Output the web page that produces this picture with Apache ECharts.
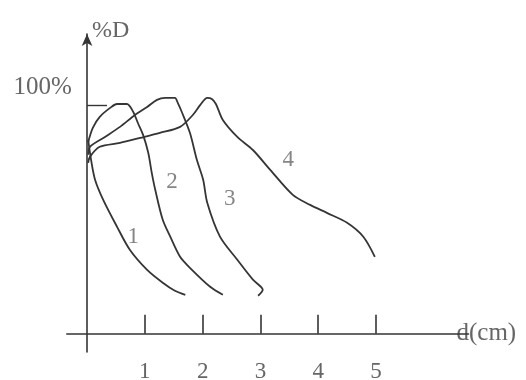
<!DOCTYPE html>
<html>
<head>
<meta charset="utf-8">
<script src="https://cdn.jsdelivr.net/npm/echarts@6/dist/echarts.min.js"></script>
<style>
  html, body { margin: 0; padding: 0; background: #fff; }
  #chart { width: 526px; height: 380px; }
</style>
</head>
<body>
<div id="chart"></div>
<script>
// depth (cm) / percent depth dose
var curve1 = [[0.02,84.7],[0.07,76.0],[0.14,67.2],[0.28,58.5],[0.52,46.7],[0.74,36.7],[1.04,27.9],[1.31,22.3],[1.52,18.8],[1.70,17.0]];
var curve2 = [[0.02,83.8],[0.10,90.0],[0.22,94.8],[0.40,98.7],[0.52,100.4],[0.69,100.4],[0.80,96.9],[0.88,92.1],[0.97,86.9],[1.06,79.0],[1.12,70.3],[1.18,62.9],[1.31,49.8],[1.44,42.4],[1.61,33.6],[1.78,28.8],[2.13,20.5],[2.35,17.0]];
var curve3 = [[0.02,78.2],[0.05,81.7],[0.31,86.0],[0.57,90.4],[0.83,95.6],[1.04,99.1],[1.21,102.2],[1.35,103.1],[1.52,103.1],[1.57,100.9],[1.64,96.9],[1.78,87.8],[1.90,76.0],[2.01,67.2],[2.08,57.2],[2.30,42.4],[2.60,32.3],[2.87,23.6],[3.04,19.2],[2.96,16.6]];
var curve4 = [[0.02,74.7],[0.05,77.3],[0.22,81.7],[0.57,83.4],[0.92,85.6],[1.26,87.8],[1.61,90.4],[1.83,95.6],[1.96,100.0],[2.08,103.1],[2.16,102.6],[2.23,100.4],[2.35,93.4],[2.60,86.0],[2.87,80.3],[3.17,71.6],[3.56,60.7],[3.86,56.3],[4.15,52.8],[4.50,48.5],[4.78,42.4],[4.98,33.6]];
var curveNames = ['1', '2', '3', '4'];
var curveLabelAt = [[0.80,42.4],[1.47,66.4],[2.47,58.9],[3.48,76.0]];
var xTicks = [1, 2, 3, 4, 5];
var yTicks = [100];

var serif = '"Liberation Serif", "DejaVu Serif", serif';
var ink = '#353535';
var textGray = '#666';

var myChart = echarts.init(document.getElementById('chart'));

var lines = [curve1, curve2, curve3, curve4].map(function (d, i) {
  return {
    name: curveNames[i],
    type: 'line',
    data: d,
    showSymbol: false,
    smooth: 0.3,
    lineStyle: { color: ink, width: 1.8 },
    silent: true
  };
});

// the numbers written next to each curve
lines.push({
  type: 'scatter',
  symbolSize: 0,
  data: curveLabelAt.map(function (p, i) { return [p[0], p[1], curveNames[i]]; }),
  label: {
    show: true,
    position: 'inside',
    formatter: function (p) { return p.data[2]; },
    fontFamily: serif,
    fontSize: 23,
    color: textGray
  },
  silent: true
});

myChart.setOption({
  animation: false,
  backgroundColor: '#fff',
  grid: { left: 66.8, top: 34, width: 401.7, height: 318, outerBoundsMode: 'none' },
  xAxis: {
    type: 'value',
    min: -0.35,
    max: 6.6,
    name: 'd(cm)',
    nameLocation: 'end',
    nameGap: -12,
    nameTextStyle: { fontFamily: serif, fontSize: 25, color: textGray, verticalAlign: 'middle', padding: [6, 0, 0, 0] },
    axisLine: { onZero: true, lineStyle: { color: ink, width: 1.6 } },
    axisTick: { show: true, inside: true, length: 19, customValues: xTicks, lineStyle: { color: ink, width: 1.6 } },
    // labels are laid out from the grid's bottom edge
    axisLabel: { customValues: xTicks, margin: 8.5, fontFamily: serif, fontSize: 23, color: textGray },
    splitLine: { show: false }
  },
  yAxis: {
    type: 'value',
    min: -8,
    max: 131,
    name: '%D',
    nameLocation: 'end',
    nameGap: 3,
    nameTextStyle: { fontFamily: serif, fontSize: 24, color: textGray, align: 'left', verticalAlign: 'middle', padding: [0, 0, 0, 5] },
    axisLine: { show: true, onZero: true, symbol: ['none', 'arrow'], symbolSize: [8, 12], lineStyle: { color: ink, width: 1.6 } },
    axisTick: { show: true, inside: true, length: 20, customValues: yTicks, lineStyle: { color: ink, width: 1.4 } },
    axisLabel: {
      customValues: yTicks,
      formatter: '{value}%',
      margin: -5,
      verticalAlign: 'bottom',
      padding: [0, 0, 5, 0],
      fontFamily: serif,
      fontSize: 25,
      color: textGray
    },
    splitLine: { show: false }
  },
  series: lines
});
</script>
</body>
</html>
